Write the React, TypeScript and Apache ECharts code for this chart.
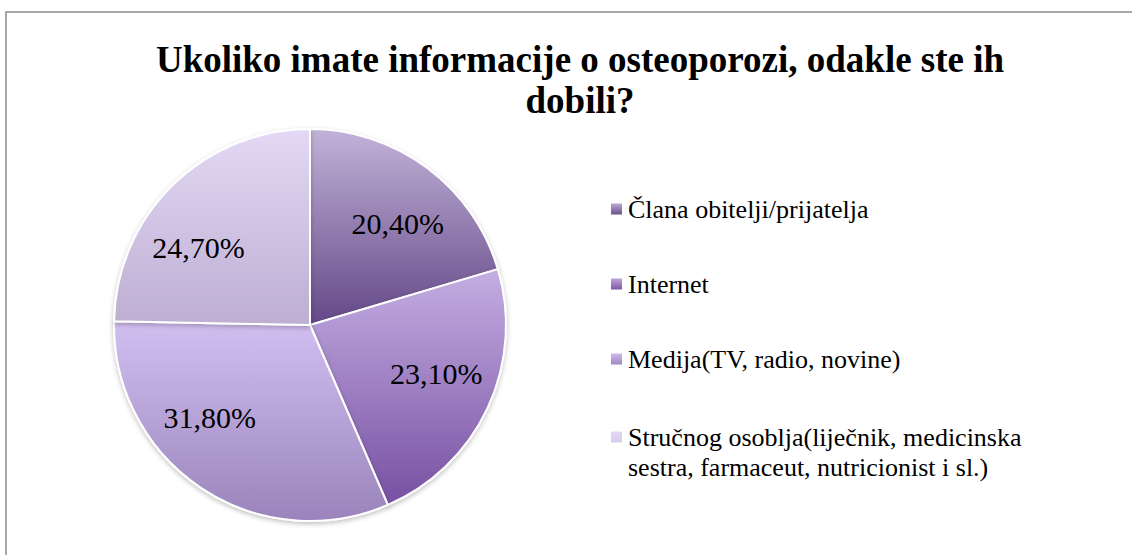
import React, { useEffect, useRef } from "react";
import * as echarts from "echarts";

const titleText = "Ukoliko imate informacije o osteoporozi, odakle ste ih\ndobili?";
const categories = [
  "Člana obitelji/prijatelja",
  "Internet",
  "Medija(TV, radio, novine)",
  "Stručnog osoblja(liječnik, medicinska\nsestra, farmaceut, nutricionist i sl.)",
];
const values = [20.4, 23.1, 31.8, 24.7];
const labels = ["20,40%", "23,10%", "31,80%", "24,70%"];
const gradTop = ["#c2b2d8", "#c4aee2", "#d2bff1", "#e3d8f5"];
const gradBottom = ["#634887", "#7750a2", "#9a84bb", "#bdaed2"];
// small nudges imitating the spreadsheet's "best fit" label placement
const labelNudge = [
  [7, 7],
  [4, -9],
  [-25, -20],
  [-17, 19],
];

const FONT = "Times New Roman, Liberation Serif, serif";

function grad(i: number) {
  return new echarts.graphic.LinearGradient(0, 0, 0, 1, [
    { offset: 0, color: gradTop[i] },
    { offset: 1, color: gradBottom[i] },
  ]);
}

export default function App() {
  const ref = useRef<HTMLDivElement>(null);
  useEffect(() => {
    if (!ref.current) return;
    const chart = echarts.init(ref.current, undefined, { renderer: "svg" });
    const pieData = categories.map((name, i) => ({
      name,
      value: values[i],
      itemStyle: { color: grad(i) },
    }));
    const labelData = categories.map((name, i) => ({
      name,
      value: values[i],
      label: { formatter: labels[i] },
    }));
    const legendText = {
      fontFamily: FONT,
      fontSize: 26,
      lineHeight: 30,
      color: "#000",
      padding: [0, 0, 0, 0],
    };
    chart.setOption({
      animation: false,
      backgroundColor: "#ffffff",
      title: {
        text: titleText,
        left: 575,
        top: 34,
        textAlign: "center",
        textStyle: {
          fontFamily: FONT,
          fontWeight: "bold",
          fontSize: 37,
          lineHeight: 41,
          color: "#000",
        },
      },
      graphic: [
        {
          type: "rect",
          shape: { x: 6, y: 12, width: 1200, height: 700 },
          style: { fill: "none", stroke: "#8a8a8a", lineWidth: 1.5 },
          silent: true,
        },
      ],
      legend: [
        {
          orient: "vertical",
          left: 604,
          top: 189,
          itemWidth: 13,
          itemHeight: 13,
          itemGap: 45,
          icon: "rect",
          data: categories.slice(0, 3),
          textStyle: legendText,
          selectedMode: false,
        },
        {
          orient: "vertical",
          left: 604,
          top: 417,
          itemWidth: 13,
          itemHeight: 43,
          icon: "path://M0,0h13v13h-13zM0,43L0,43",
          data: categories.slice(3),
          textStyle: legendText,
          selectedMode: false,
        },
      ],
      series: [
        {
          type: "pie",
          center: [310, 325],
          radius: [0, 196],
          startAngle: 90,
          clockwise: true,
          label: { show: false },
          labelLine: { show: false },
          itemStyle: {
            borderColor: "#ffffff",
            borderWidth: 2,
            shadowBlur: 5,
            shadowColor: "rgba(0,0,0,0.25)",
            shadowOffsetY: 2,
          },
          emphasis: { disabled: true },
          data: pieData,
          z: 2,
        },
        {
          type: "pie",
          center: [310, 325],
          radius: [68, 196],
          startAngle: 90,
          clockwise: true,
          silent: true,
          itemStyle: { color: "rgba(0,0,0,0)" },
          label: {
            show: true,
            position: "inside",
            fontFamily: FONT,
            fontSize: 30,
            color: "#000",
          },
          labelLayout: (p: any) => ({
            dx: labelNudge[p.dataIndex][0],
            dy: labelNudge[p.dataIndex][1],
          }),
          labelLine: { show: false },
          emphasis: { disabled: true },
          data: labelData,
          z: 3,
        },
      ],
    });
    return () => chart.dispose();
  }, []);
  return (
    <div
      ref={ref}
      style={{ position: "fixed", left: 0, top: 0, width: 1132, height: 555 }}
    />
  );
}
